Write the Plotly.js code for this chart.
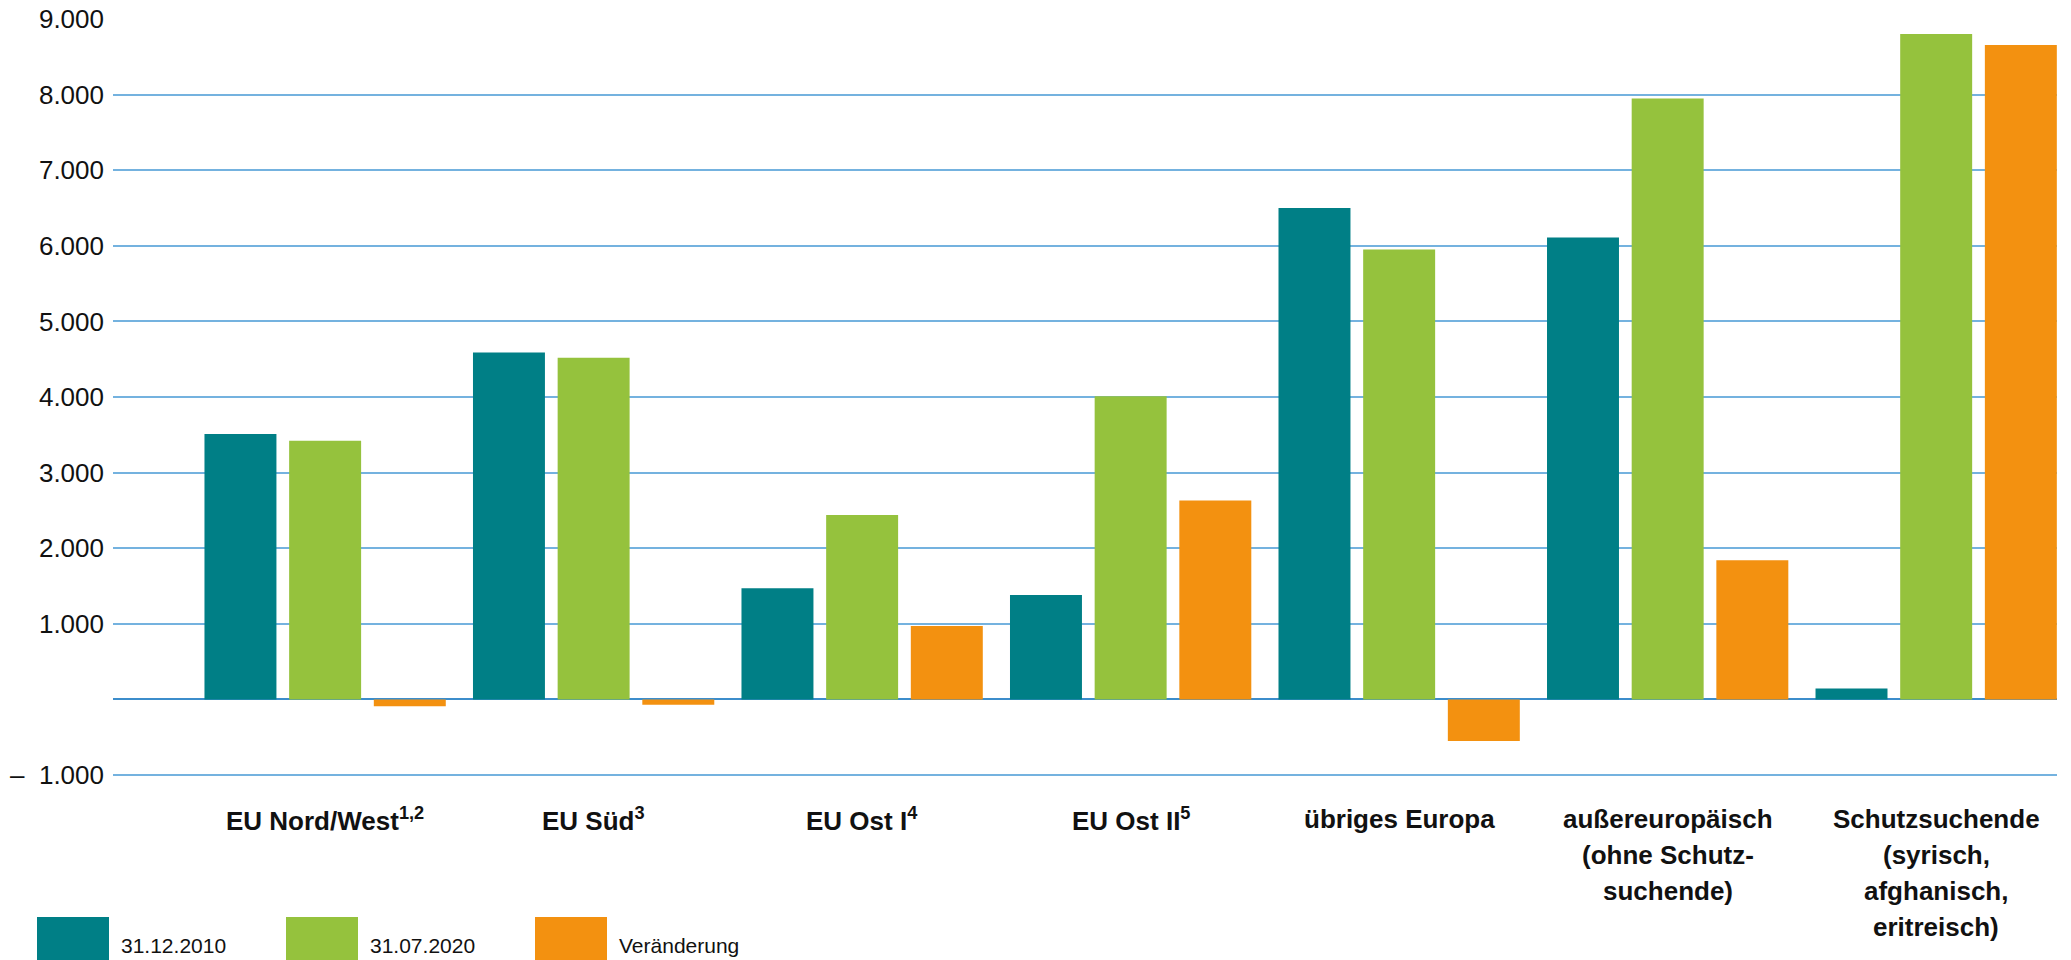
<!DOCTYPE html>
<html>
<head>
<meta charset="utf-8">
<script src="https://cdn.plot.ly/plotly-3.0.1.min.js"></script>
<style>
  html, body { margin: 0; padding: 0; background: #ffffff; }
  #chart { width: 2071px; height: 960px; }
</style>
</head>
<body>
<div id="chart"></div>
<script>
// ---- Data ----
const categories = [
  "EU Nord/West<sup>1,2</sup>",
  "EU Süd<sup>3</sup>",
  "EU Ost I<sup>4</sup>",
  "EU Ost II<sup>5</sup>",
  "übriges Europa",
  "außereuropäisch<br>(ohne Schutz-<br>suchende)",
  "Schutzsuchende<br>(syrisch,<br>afghanisch,<br>eritreisch)"
];
const seriesNames = ["31.12.2010", "31.07.2020", "Veränderung"];
const values2010 = [3510, 4590, 1470, 1380, 6500, 6110, 145];
const values2020 = [3420, 4520, 2440, 4010, 5950, 7950, 8800];
const valuesChange = [-90, -70, 970, 2630, -550, 1840, 8655];
const yTickVals = [-1000, 0, 1000, 2000, 3000, 4000, 5000, 6000, 7000, 8000, 9000];
const yTickText = ["–  1.000", "", "1.000", "2.000", "3.000", "4.000", "5.000", "6.000", "7.000", "8.000", "9.000"];

// ---- Styles ----
const colors = ["#007f86", "#95c23d", "#f39110"];
const W = 2071, H = 960;
const M = { l: 113, r: 14, t: 19, b: 183 };
const plotW = W - M.l - M.r, plotH = H - M.t - M.b;
const px2x = p => (p - M.l) / plotW;
const px2y = p => (H - M.b - p) / plotH;
const FONT = "Liberation Sans, Arial, sans-serif";

const allSeries = [values2010, values2020, valuesChange];
const catIdx = categories.map((c, k) => k);
const traces = allSeries.map((vals, i) => ({
  type: "bar",
  name: seriesNames[i],
  x: catIdx,
  y: vals,
  marker: { color: colors[i], line: { width: 0 } },
  hoverinfo: "y+name"
}));

const shapes = [];
const annotations = [];

// Category labels (one annotation per line, for the wider line spacing of the reference)
const firstLineCenter = 819, lineStep = 36;
categories.forEach((label, k) => {
  label.split("<br>").forEach((line, j) => {
    annotations.push({
      xref: "x", yref: "paper",
      x: k, y: px2y(firstLineCenter + j * lineStep),
      xanchor: "center", yanchor: "middle",
      text: line, showarrow: false,
      font: { family: FONT, size: 26, color: "#111111", weight: "bold" }
    });
  });
});

// Custom legend (large swatches as in the reference)
const legendX = [37, 286, 535];
seriesNames.forEach((name, i) => {
  shapes.push({
    type: "rect", xref: "paper", yref: "paper",
    x0: px2x(legendX[i]), x1: px2x(legendX[i] + 72),
    y0: px2y(962), y1: px2y(917),
    fillcolor: colors[i], line: { width: 0 }, layer: "above"
  });
  annotations.push({
    xref: "paper", yref: "paper",
    x: px2x(legendX[i] + 82), y: px2y(945),
    xanchor: "left", yanchor: "middle",
    text: name, showarrow: false,
    font: { family: FONT, size: 21, color: "#111111" }
  });
});

const layout = {
  width: W, height: H,
  margin: M,
  paper_bgcolor: "#ffffff",
  plot_bgcolor: "#ffffff",
  showlegend: false,
  barmode: "group",
  bargap: 0.054,
  bargroupgap: 0.15,
  font: { family: FONT, color: "#111111" },
  xaxis: {
    range: [-0.79, 6.45],
    tickmode: "array",
    tickvals: catIdx,
    showticklabels: false,
    ticks: "",
    showgrid: false,
    zeroline: false,
    showline: false,
    fixedrange: true
  },
  yaxis: {
    range: [-1026, 9000],
    tickmode: "array",
    tickvals: yTickVals,
    ticktext: yTickText,
    ticks: "",
    ticklabelstandoff: 8,
    showgrid: true,
    gridcolor: "#74b2df",
    gridwidth: 2,
    zeroline: true,
    zerolinecolor: "#3c8dcb",
    zerolinewidth: 2,
    showline: false,
    tickfont: { family: FONT, size: 26, color: "#111111" },
    fixedrange: true
  },
  shapes: shapes,
  annotations: annotations
};

Plotly.newPlot("chart", traces, layout, { displayModeBar: false, staticPlot: true });
</script>
</body>
</html>
